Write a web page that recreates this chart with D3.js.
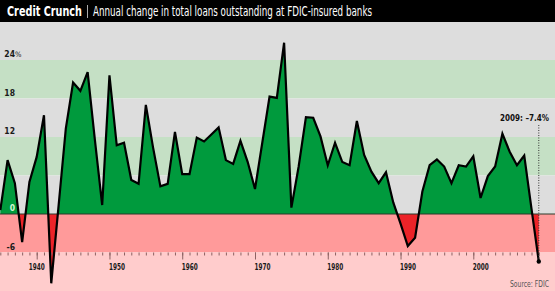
<!DOCTYPE html>
<html>
<head>
<meta charset="utf-8">
<script src="https://cdn.jsdelivr.net/npm/d3@7"></script>
<style>
  html, body { margin: 0; padding: 0; background: #fff; }
  #viz { width: 555px; height: 291px; }
  text { font-family: "Liberation Sans Narrow", "DejaVu Sans Condensed", sans-serif; }
</style>
</head>
<body>
<div id="viz"></div>
<script>
const years = [
  1935, 1936, 1937, 1938, 1939, 1940, 1941, 1942, 1943, 1944,
  1945, 1946, 1947, 1948, 1949, 1950, 1951, 1952, 1953, 1954,
  1955, 1956, 1957, 1958, 1959, 1960, 1961, 1962, 1963, 1964,
  1965, 1966, 1967, 1968, 1969, 1970, 1971, 1972, 1973, 1974,
  1975, 1976, 1977, 1978, 1979, 1980, 1981, 1982, 1983, 1984,
  1985, 1986, 1987, 1988, 1989, 1990, 1991, 1992, 1993, 1994,
  1995, 1996, 1997, 1998, 1999, 2000, 2001, 2002, 2003, 2004,
  2005, 2006, 2007, 2008, 2009
];
// annual % change in total loans
const loanChange = [
  0.6, 8.4, 4.8, -4.4, 5.0, 8.9, 15.4, -10.8, 1.2, 13.3,
  20.5, 19.2, 22.1, 11.5, 1.4, 21.6, 10.7, 11.1, 5.3, 4.7,
  17.0, 10.3, 4.3, 4.7, 12.8, 6.2, 6.2, 11.9, 11.3, 12.4,
  13.5, 8.4, 7.8, 11.4, 8.1, 3.9, 11.1, 18.3, 18.1, 26.7,
  1.0, 7.4, 15.1, 15.0, 12.1, 7.6, 11.1, 8.1, 7.6, 14.5,
  9.2, 6.6, 4.8, 6.5, 1.8, -1.5, -5.0, -3.7, 3.5, 7.6,
  8.5, 7.4, 4.8, 7.6, 7.4, 9.0, 2.5, 5.9, 7.4, 12.5,
  9.7, 7.6, 9.1, 0.8, -7.4
];
const yTicks = [-6, 0, 12, 18, 24];
const decadeTicks = [1940, 1950, 1960, 1970, 1980, 1990, 2000];
const bands = [
  { from: 24, to: 30, color: '#dddddd' },
  { from: 18, to: 24, color: '#c5e0c5' },
  { from: 12, to: 18, color: '#dddddd' },
  { from: 6, to: 12, color: '#c5e0c5' },
  { from: 0, to: 6, color: '#dddddd' },
  { from: -6, to: 0, color: '#ff9a9a' },
  { from: -12, to: -6, color: '#ffcccc' }
];

const width = 555;
const height = 291;
const titleH = 22;

const svg = d3.select('#viz')
  .append('svg')
  .attr('width', width)
  .attr('height', height);

const x = d3.scaleLinear()
  .domain([1940, 2000])
  .range([36.7, 473.3]);

const y = d3.scaleLinear()
  .domain([-12, 30])
  .range([height, 21.5]);

const data = years.map((yr, i) => ({ year: yr, v: loanChange[i] }));

// background bands
svg.selectAll('.band')
  .data(bands)
  .enter()
  .append('rect')
  .attr('x', 0)
  .attr('width', width)
  .attr('y', d => y(d.to))
  .attr('height', d => y(d.from) - y(d.to))
  .attr('fill', d => d.color);

// area fills, green above zero and red below
const defs = svg.append('defs');
defs.append('clipPath').attr('id', 'above')
  .append('rect').attr('x', 0).attr('y', 0).attr('width', width).attr('height', y(0));
defs.append('clipPath').attr('id', 'below')
  .append('rect').attr('x', 0).attr('y', y(0)).attr('width', width).attr('height', height - y(0));

const area = d3.area()
  .x(d => x(d.year))
  .y0(y(0))
  .y1(d => y(d.v));

svg.append('path')
  .datum(data)
  .attr('fill', '#009a3d')
  .attr('clip-path', 'url(#above)')
  .attr('d', area);

svg.append('path')
  .datum(data)
  .attr('fill', '#ec2328')
  .attr('clip-path', 'url(#below)')
  .attr('d', area);

// zero line
svg.append('line')
  .attr('x1', 0).attr('x2', width)
  .attr('y1', y(0)).attr('y2', y(0))
  .attr('stroke', '#2a3a2a')
  .attr('stroke-width', 1);

// x axis ticks on the -6 line
const xAxisY = y(-6);
const minor = svg.append('g')
  .attr('transform', `translate(0,${xAxisY})`)
  .call(d3.axisBottom(x).tickValues(years).tickSize(3).tickFormat(''));
const major = svg.append('g')
  .attr('transform', `translate(0,${xAxisY})`)
  .call(d3.axisBottom(x).tickValues(decadeTicks).tickSize(7).tickFormat(d3.format('d')));
[minor, major].forEach(g => {
  g.select('.domain').remove();
  g.selectAll('line').attr('stroke', '#8c6262').attr('stroke-width', 1);
});
major.selectAll('text')
  .attr('y', 0)
  .attr('dy', 0)
  .attr('transform', d => `translate(${d === 1940 ? -8.5 : -1},17.5)`)
  .attr('text-anchor', 'start')
  .attr('fill', '#1a1a1a')
  .attr('font-size', 8.5)
  .attr('font-weight', 'bold')
  .attr('textLength', 16)
  .attr('lengthAdjust', 'spacingAndGlyphs');

// data line
svg.append('path')
  .datum(data)
  .attr('fill', 'none')
  .attr('stroke', '#000')
  .attr('stroke-width', 2.2)
  .attr('d', d3.line().x(d => x(d.year)).y(d => y(d.v)));

// y labels
const yAxis = svg.append('g')
  .attr('transform', 'translate(15,0)')
  .call(d3.axisLeft(y).tickValues(yTicks).tickSize(0).tickFormat(d => String(d)));
yAxis.select('.domain').remove();
yAxis.selectAll('text')
  .attr('x', 0)
  .attr('dy', -3.5)
  .attr('font-size', 8.5)
  .attr('font-weight', 'bold')
  .attr('fill', d => d === 0 ? '#d4f5d4' : '#1a1a1a');
svg.append('text')
  .attr('x', 15)
  .attr('y', y(24) - 3.5)
  .attr('font-size', 7.5)
  .attr('fill', '#1a1a1a')
  .text('%');

// 2009 annotation
const last = data[data.length - 1];
svg.append('line')
  .attr('x1', x(last.year)).attr('x2', x(last.year))
  .attr('y1', 125).attr('y2', y(last.v))
  .attr('stroke', '#333')
  .attr('stroke-width', 1)
  .attr('stroke-dasharray', '1,1.5');
svg.append('circle')
  .attr('cx', x(last.year))
  .attr('cy', y(last.v))
  .attr('r', 2.2)
  .attr('fill', '#000');
svg.append('text')
  .attr('x', 549)
  .attr('y', 121)
  .attr('text-anchor', 'end')
  .attr('font-size', 8)
  .attr('font-weight', 'bold')
  .attr('fill', '#111')
  .text(`${last.year}: –${Math.abs(last.v)}%`);

svg.append('text')
  .attr('x', 549)
  .attr('y', 287)
  .attr('text-anchor', 'end')
  .attr('font-size', 8)
  .attr('fill', '#555')
  .attr('textLength', 39)
  .attr('lengthAdjust', 'spacingAndGlyphs')
  .text('Source: FDIC');

// title bar
svg.append('rect')
  .attr('x', 0).attr('y', 0)
  .attr('width', width).attr('height', titleH)
  .attr('fill', '#000');
svg.append('text')
  .attr('x', 7)
  .attr('y', 16)
  .attr('font-size', 13.5)
  .attr('font-weight', 'bold')
  .attr('fill', '#fff')
  .attr('textLength', 75)
  .attr('lengthAdjust', 'spacingAndGlyphs')
  .text('Credit Crunch');
svg.append('line')
  .attr('x1', 87.5).attr('x2', 87.5)
  .attr('y1', 5).attr('y2', 18)
  .attr('stroke', '#aaa')
  .attr('stroke-width', 1);
svg.append('text')
  .attr('x', 93)
  .attr('y', 16)
  .attr('font-size', 13.5)
  .attr('fill', '#fff')
  .attr('textLength', 279)
  .attr('lengthAdjust', 'spacingAndGlyphs')
  .text('Annual change in total loans outstanding at FDIC-insured banks');
</script>
</body>
</html>
